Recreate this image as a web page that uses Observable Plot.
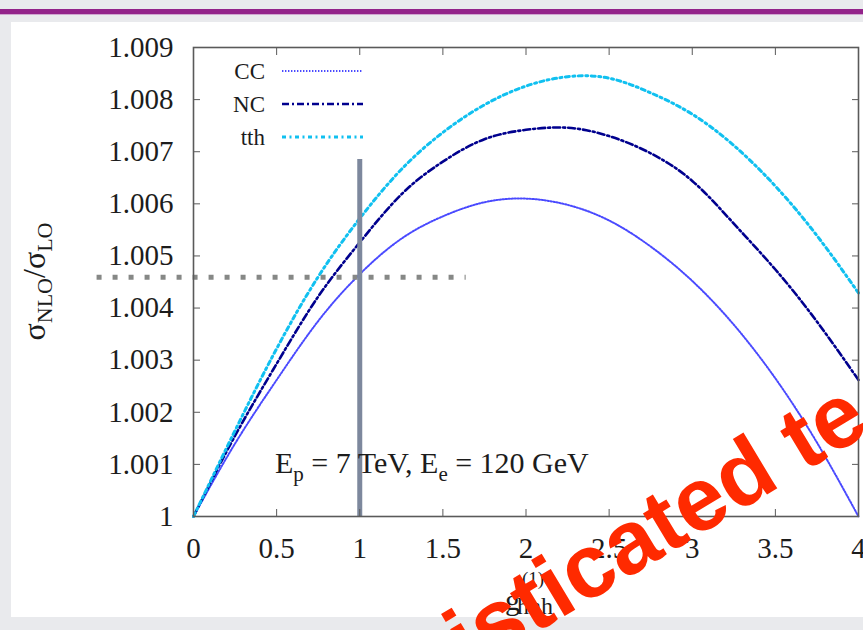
<!DOCTYPE html>
<html><head><meta charset="utf-8">
<script src="https://cdn.jsdelivr.net/npm/d3@7"></script>
<script src="https://cdn.jsdelivr.net/npm/@observablehq/plot@0.6"></script>
<style>
html,body{margin:0;padding:0;}
body{width:863px;height:630px;background:#e9eaed;position:relative;overflow:hidden;}
#bar{position:absolute;left:0;top:9px;width:863px;height:5px;background:#93238a;}
#bar2{position:absolute;left:0;top:14px;width:863px;height:1px;background:#cfa6d0;}
#panel{position:absolute;left:11px;top:22px;width:852px;height:595px;background:#fff;overflow:hidden;}
#wm{position:absolute;left:0;top:0;pointer-events:none;}
</style></head><body>
<div id="bar"></div><div id="bar2"></div>
<div id="panel"></div>
<svg id="wm" width="863" height="630"><text transform="translate(285,784) rotate(-31)" text-anchor="start" font-family="Liberation Sans, Arial, sans-serif" font-weight="bold" font-size="90" fill="#ff2a00">sophisticated te</text></svg>
<script>
// ---- data ----
const xValues = [0, 0.25, 0.5, 0.75, 1, 1.25, 1.5, 1.75, 2, 2.25, 2.5, 2.75, 3, 3.25, 3.5, 3.75, 4];
const ccValues  = [1.00000,1.00140,1.00262,1.00375,1.00465,1.00533,1.00576,1.00603,1.00610,1.00598,1.00568,1.00518,1.00452,1.00368,1.00265,1.00142,1.00000];
const ncValues  = [1.00000,1.00155,1.00293,1.00422,1.00526,1.00618,1.00681,1.00724,1.00742,1.00746,1.00730,1.00697,1.00644,1.00562,1.00474,1.00374,1.00262];
const tthValues = [1.00000,1.00165,1.00322,1.00460,1.00572,1.00666,1.00737,1.00790,1.00826,1.00844,1.00841,1.00813,1.00772,1.00712,1.00634,1.00539,1.00429];
const seriesNames = ["CC", "NC", "tth"];
const xTicks = [0, 0.5, 1, 1.5, 2, 2.5, 3, 3.5, 4];
const xTickLabels = ["0", "0.5", "1", "1.5", "2", "2.5", "3", "3.5", "4"];
const yTicks = [1, 1.001, 1.002, 1.003, 1.004, 1.005, 1.006, 1.007, 1.008, 1.009];
const yTickLabels = ["1", "1.001", "1.002", "1.003", "1.004", "1.005", "1.006", "1.007", "1.008", "1.009"];
const markerX = 1;          // vertical marker at g = 1
const markerTop = 1.00685;
const refY = 1.00459;       // horizontal dotted reference
const refX1 = -0.58, refX2 = 1.64;

// ---- styles ----
const styles = {
  CC:  {stroke: "#4a4aff", strokeWidth: 2,   dash: "1.4,1.6"},
  NC:  {stroke: "#00008e", strokeWidth: 2.6, dash: "7,3,2,3"},
  tth: {stroke: "#10c0f0", strokeWidth: 3,   dash: "4,3.5,2,3.5"}
};
const serif = "'Liberation Serif', 'Times New Roman', serif";
const axisColor = "#5a5a5a";
const textColor = "#1c1c1c";

const valuesBySeries = {CC: ccValues, NC: ncValues, tth: tthValues};
const rows = seriesNames.flatMap(s => xValues.map((x, i) => ({series: s, x, y: valuesBySeries[s][i]})));

function richMark(build) {
  return (index, scales, values, dims) => {
    const g = d3.create("svg:g").attr("text-anchor", "start");
    build(g, dims);
    return g.node();
  };
}

const W = 852, H = 595, mL = 182, mR = 5, mT = 25, mB = 101;

const chart = Plot.plot({
  width: W, height: H,
  marginLeft: mL, marginRight: mR, marginTop: mT, marginBottom: mB,
  x: {domain: [0, 4]},
  y: {domain: [1, 1.009]},
  style: {background: "transparent"},
  marks: [
    ...seriesNames.map(s => Plot.line(rows.filter(d => d.series === s), {
      x: "x", y: "y", curve: "natural",
      stroke: styles[s].stroke, strokeWidth: styles[s].strokeWidth, strokeDasharray: styles[s].dash
    })),
    Plot.ruleY([refY], {x1: refX1, x2: refX2, stroke: "#868886", strokeWidth: 5, strokeDasharray: "5,11"}),
    Plot.ruleX([markerX], {y1: 1, y2: markerTop, stroke: "#7d889d", strokeWidth: 5}),
    Plot.frame({stroke: axisColor, strokeWidth: 1.6}),
    Plot.axisX(xTicks, {anchor: "bottom", tickSize: -7, tickFormat: () => "", label: null, stroke: axisColor}),
    Plot.axisX(xTicks, {anchor: "top", tickSize: -7, tickFormat: () => "", label: null, stroke: axisColor}),
    Plot.axisY(yTicks, {anchor: "left", tickSize: -7, tickFormat: () => "", label: null, stroke: axisColor}),
    Plot.axisY(yTicks, {anchor: "right", tickSize: -7, tickFormat: () => "", label: null, stroke: axisColor}),
    Plot.text(xTicks, {x: d => d, frameAnchor: "bottom", dy: 32, text: (d, i) => xTickLabels[i],
      fontFamily: serif, fontSize: 29, fill: textColor, lineAnchor: "middle"}),
    Plot.text(yTicks, {y: d => d, frameAnchor: "left", dx: -20, text: (d, i) => yTickLabels[i],
      fontFamily: serif, fontSize: 29, fill: textColor, textAnchor: "end", lineAnchor: "middle"}),
    // legend
    richMark((g, dims) => {
      const left = dims.marginLeft;
      seriesNames.forEach((s, i) => {
        const y = dims.marginTop + 24 + 33 * i;
        g.append("text").attr("x", left + 72).attr("y", y).attr("dy", "0.33em")
          .attr("text-anchor", "end").attr("font-family", serif).attr("font-size", 23)
          .attr("fill", textColor).text(s);
        g.append("line").attr("x1", left + 89).attr("x2", left + 170).attr("y1", y).attr("y2", y)
          .attr("stroke", styles[s].stroke).attr("stroke-width", styles[s].strokeWidth)
          .attr("stroke-dasharray", styles[s].dash);
      });
    }),
    // annotation
    richMark((g, dims) => {
      const t = g.append("text").attr("x", dims.marginLeft + 82).attr("y", dims.height - dims.marginBottom - 43)
        .attr("font-family", serif).attr("font-size", 30).attr("fill", textColor);
      t.append("tspan").text("E");
      t.append("tspan").attr("font-size", 21).attr("dy", 8).text("p");
      t.append("tspan").attr("dy", -8).text(" = 7 TeV, E");
      t.append("tspan").attr("font-size", 21).attr("dy", 8).text("e");
      t.append("tspan").attr("dy", -8).text(" = 120 GeV");
    }),
    // y label
    richMark((g, dims) => {
      const cy = dims.marginTop + (dims.height - dims.marginTop - dims.marginBottom) / 2;
      const t = g.append("text").attr("transform", `translate(34,${cy}) rotate(-90)`)
        .attr("text-anchor", "middle").attr("font-family", serif).attr("font-size", 32).attr("fill", textColor);
      t.append("tspan").text("σ");
      t.append("tspan").attr("font-size", 22).attr("dy", 7).text("NLO");
      t.append("tspan").attr("dy", -7).text("/σ");
      t.append("tspan").attr("font-size", 22).attr("dy", 7).text("LO");
    }),
    // x label
    richMark((g, dims) => {
      const cx = dims.marginLeft + (dims.width - dims.marginLeft - dims.marginRight) / 2;
      const base = dims.height - dims.marginBottom + 94;
      g.append("text").attr("x", cx - 20.5).attr("y", base).attr("font-family", serif).attr("font-size", 30)
        .attr("fill", textColor).text("g");
      g.append("text").attr("x", cx - 8.5).attr("y", base + 4).attr("font-family", serif).attr("font-size", 24)
        .attr("fill", textColor).text("hhh");
      g.append("text").attr("x", cx - 3.5).attr("y", base - 25).attr("font-family", serif).attr("font-size", 19)
        .attr("fill", textColor).text("(1)");
    })
  ]
});
document.getElementById("panel").appendChild(chart);
</script>
</body></html>
